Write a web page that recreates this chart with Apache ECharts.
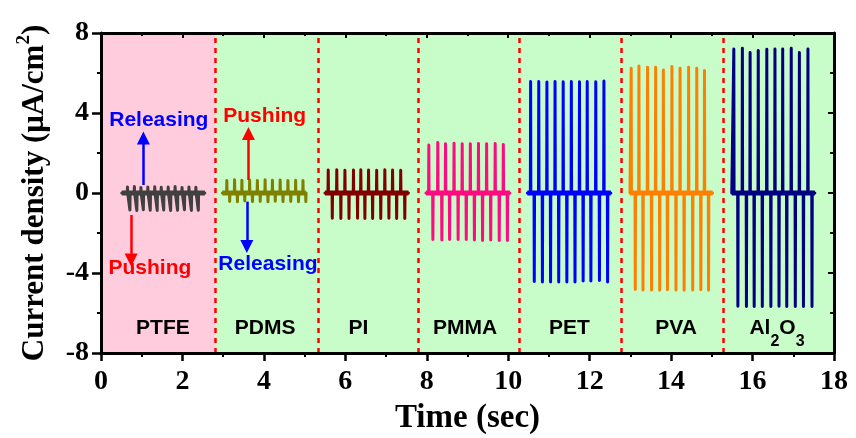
<!DOCTYPE html>
<html>
<head>
<meta charset="utf-8">
<title>Current density</title>
<script src="https://cdn.jsdelivr.net/npm/echarts@6/dist/echarts.min.js"></script>
<style>
html, body { margin: 0; padding: 0; background: #fff; }
#mychart { width: 856px; height: 438px; }
</style>
</head>
<body>
<div id="mychart"></div>
<script>
// 材料
var materials = ['PTFE', 'PDMS', 'PI', 'PMMA', 'PET', 'PVA', 'Al2O3'];
// 每段信号起止时间 (sec)
var segStart = [0.51, 2.98, 5.50, 7.98, 10.47, 12.99, 15.49];
var segEnd = [2.55, 5.03, 7.55, 10.04, 12.52, 15.02, 17.53];
// 红色虚线分隔
var boundaries = [2.8, 5.33, 7.8, 10.27, 12.77, 15.27];
// 正峰与负峰的时间差
var pulseLag = [0.06, 0.07, 0.1, 0.1, 0.09, 0.1, 0.1];

// 各材料每个周期的时间与峰值 (μA/cm2)
var ptfeT = [0.65, 0.82, 0.98, 1.15, 1.32, 1.48, 1.65, 1.82, 1.99, 2.16, 2.33];
var ptfeUp = [0.30, 0.32, 0.28, 0.30, 0.31, 0.29, 0.30, 0.32, 0.28, 0.30, 0.29];
var ptfeDown = [-0.85, -0.88, -0.84, -0.86, -0.87, -0.85, -0.88, -0.86, -0.84, -0.87, -0.86];

var pdmsT = [3.09, 3.28, 3.46, 3.65, 3.84, 4.03, 4.21, 4.40, 4.59, 4.78, 4.96];
var pdmsUp = [0.62, 0.66, 0.64, 0.65, 0.63, 0.66, 0.64, 0.65, 0.63, 0.64, 0.62];
var pdmsDown = [-0.42, -0.44, -0.40, -0.43, -0.42, -0.44, -0.41, -0.43, -0.42, -0.44, -0.43];

var piT = [5.58, 5.79, 5.99, 6.20, 6.38, 6.57, 6.77, 6.97, 7.16, 7.36];
var piUp = [1.15, 1.16, 1.14, 1.15, 1.16, 1.15, 1.14, 1.16, 1.15, 1.14];
var piDown = [-1.26, -1.27, -1.28, -1.26, -1.27, -1.28, -1.27, -1.26, -1.28, -1.27];

var pmmaT = [8.05, 8.27, 8.46, 8.67, 8.87, 9.07, 9.27, 9.47, 9.68, 9.88];
var pmmaUp = [2.40, 2.52, 2.46, 2.49, 2.46, 2.46, 2.47, 2.46, 2.47, 2.42];
var pmmaDown = [-2.33, -2.35, -2.33, -2.33, -2.33, -2.35, -2.38, -2.35, -2.38, -2.38];

var petT = [10.55, 10.75, 10.95, 11.15, 11.35, 11.55, 11.75, 11.94, 12.15, 12.35];
var petUp = [5.57, 5.58, 5.55, 5.57, 5.56, 5.57, 5.56, 5.57, 5.56, 5.60];
var petDown = [-4.43, -4.45, -4.45, -4.45, -4.45, -4.45, -4.40, -4.40, -4.38, -4.45];

var pvaT = [13.02, 13.21, 13.42, 13.62, 13.81, 14.02, 14.22, 14.43, 14.63, 14.82];
var pvaUp = [6.24, 6.35, 6.29, 6.29, 6.15, 6.32, 6.24, 6.29, 6.24, 6.12];
var pvaDown = [-4.83, -4.85, -4.85, -4.86, -4.84, -4.85, -4.86, -4.85, -4.84, -4.86];

var alT = [15.54, 15.75, 15.94, 16.14, 16.35, 16.55, 16.74, 16.95, 17.15, 17.36];
var alUp = [7.20, 7.24, 7.02, 7.12, 7.19, 7.20, 7.20, 7.24, 7.02, 7.20];
var alDown = [-5.66, -5.68, -5.68, -5.67, -5.68, -5.66, -5.68, -5.68, -5.67, -5.68];

// 材料名称标签位置
var labelX = [1.52, 4.03, 6.32, 8.94, 11.5, 14.12, 16.6];
var labelY = -6.75;

// Pushing / Releasing 注释与箭头
var noteText = ['Releasing', 'Pushing', 'Pushing', 'Releasing'];
var noteX = [1.42, 1.2, 4.02, 4.1];
var noteY = [3.65, -3.75, 3.85, -3.55];
var arrowX = [1.04, 0.74, 3.62, 3.58];
var arrowFrom = [0.4, -1.1, 0.65, -0.43];
var arrowTo = [2.75, -3.35, 2.98, -2.68];

var lineColors = ['#404040', '#808000', '#800000', '#ff0a80', '#0000ff', '#ff8000', '#000080'];
var noteColors = ['#0000ff', '#ff0000', '#ff0000', '#0000ff'];
var serif = 'Liberation Serif, Times New Roman, serif';
var sans = 'Liberation Sans, Arial, sans-serif';

var pulses = [
    [ptfeT, ptfeUp, ptfeDown],
    [pdmsT, pdmsUp, pdmsDown],
    [piT, piUp, piDown],
    [pmmaT, pmmaUp, pmmaDown],
    [petT, petUp, petDown],
    [pvaT, pvaUp, pvaDown],
    [alT, alUp, alDown]
];

//把每个周期的峰值连成折线
function buildPulse(k) {
    var times = pulses[k][0], ups = pulses[k][1], downs = pulses[k][2];
    var e = 0.006;
    var pts = [[segStart[k], 0]];
    for (var i = 0; i < times.length; i++) {
        var t = times[i];
        pts.push([t - e, 0], [t, ups[i]], [t + e, 0]);
        var tn = t + pulseLag[k];
        pts.push([tn - e, 0], [tn, downs[i]], [tn + e, 0]);
    }
    pts.push([segEnd[k], 0]);
    return pts;
}

var series = [];
for (var k = 0; k < materials.length; k++) {
    series.push({
        name: materials[k] + '_base',
        type: 'line',
        z: 3,
        symbol: 'none',
        silent: true,
        lineStyle: { color: lineColors[k], width: 5 },
        data: [[segStart[k], 0], [segEnd[k], 0]]
    });
    series.push({
        name: materials[k],
        type: 'line',
        z: 4,
        symbol: 'none',
        silent: true,
        lineStyle: { color: lineColors[k], width: 3, join: 'round', cap: 'round' },
        data: buildPulse(k)
    });
}

// 背景色块、分隔虚线、箭头
var arrowLines = [];
for (var a = 0; a < arrowX.length; a++) {
    arrowLines.push([
        { coord: [arrowX[a], arrowFrom[a]], lineStyle: { color: noteColors[a], width: 2.5, type: 'solid' }, itemStyle: { color: noteColors[a] } },
        { coord: [arrowX[a], arrowTo[a]] }
    ]);
}
var dashLines = boundaries.map(function (v) {
    return { xAxis: v };
});

var labelBase = {
    show: true,
    position: 'inside',
    fontFamily: sans,
    fontWeight: 'bold',
    fontSize: 21,
    opacity: 1,
    textBorderWidth: 0,
    textShadowBlur: 0
};

series.push({
    name: 'bg',
    type: 'scatter',
    z: 1,
    silent: true,
    symbolSize: 0,
    itemStyle: { opacity: 1 },
    data: labelX.map(function (x) { return [x, labelY]; }),
    label: echarts.util.merge({
        color: '#000',
        lineHeight: 44,
        formatter: function (p) {
            return materials[p.dataIndex] == 'Al2O3' ? 'Al{sub|2}O{sub|3}' : materials[p.dataIndex];
        },
        rich: {
            sub: { fontFamily: sans, fontWeight: 'bold', fontSize: 16, color: '#000', verticalAlign: 'bottom', lineHeight: 16 }
        }
    }, labelBase),
    markArea: {
        silent: true,
        data: [
            [{ xAxis: 0, itemStyle: { color: '#ffccdd' } }, { xAxis: boundaries[0] }],
            [{ xAxis: boundaries[0], itemStyle: { color: '#c8fcc8' } }, { xAxis: 18 }]
        ]
    },
    markLine: {
        silent: true,
        symbol: 'none',
        label: { show: false },
        lineStyle: { color: '#ff0000', type: [5, 5], width: 2.5 },
        data: dashLines
    }
});

series.push({
    name: 'notes',
    type: 'scatter',
    z: 5,
    silent: true,
    symbolSize: 0,
    itemStyle: { opacity: 1 },
    data: noteText.map(function (s, i) {
        return { value: [noteX[i], noteY[i]], label: { color: noteColors[i] } };
    }),
    label: echarts.util.merge({
        formatter: function (p) {
            return noteText[p.dataIndex];
        }
    }, labelBase),
    markLine: {
        silent: true,
        symbol: ['none', 'triangle'],
        symbolSize: 13,
        label: { show: false },
        data: arrowLines
    }
});

var axisBase = {
    type: 'value',
    z: 10,
    axisLine: { onZero: false, lineStyle: { color: '#000', width: 3 } },
    splitLine: { show: false }
};

var myChart = echarts.init(document.getElementById('mychart'));
myChart.setOption({
    animation: false,
    backgroundColor: '#fff',
    grid: { left: 101, right: 22, top: 33, bottom: 85, containLabel: false, outerBoundsMode: 'none' },
    xAxis: [
        echarts.util.merge({
            position: 'bottom', min: 0, max: 18, interval: 2,
            name: 'Time (sec)', nameLocation: 'middle', nameGap: 37,
            nameTextStyle: { fontFamily: serif, fontWeight: 'bold', fontSize: 33, color: '#000', lineHeight: 36 },
            axisTick: { inside: false, length: 8, lineStyle: { color: '#000', width: 2.5 } },
            minorTick: { show: true, splitNumber: 2, length: 4, lineStyle: { color: '#000', width: 2 } },
            axisLabel: { margin: 15, fontFamily: serif, fontWeight: 'bold', fontSize: 28, color: '#000', lineHeight: 28 }
        }, axisBase),
        echarts.util.merge({
            position: 'top', min: 0, max: 18, interval: 2,
            axisTick: { inside: true, length: 5, lineStyle: { color: '#000', width: 2 } },
            minorTick: { show: true, splitNumber: 2, length: 3, lineStyle: { color: '#000', width: 2 } },
            axisLabel: { show: false }
        }, axisBase)
    ],
    yAxis: [
        echarts.util.merge({
            position: 'left', min: -8, max: 8, interval: 4,
            name: 'Current density (μA/cm{sup|2})', nameLocation: 'middle', nameGap: 46,
            nameTextStyle: {
                fontFamily: serif, fontWeight: 'bold', fontSize: 31, color: '#000', lineHeight: 40,
                rich: {
                    sup: { fontFamily: serif, fontWeight: 'bold', fontSize: 19, color: '#000', verticalAlign: 'top', lineHeight: 19 }
                }
            },
            axisTick: { inside: false, length: 9, lineStyle: { color: '#000', width: 2.5 } },
            minorTick: { show: true, splitNumber: 2, length: 4, lineStyle: { color: '#000', width: 2 } },
            axisLabel: { margin: 12, fontFamily: serif, fontWeight: 'bold', fontSize: 28, color: '#000' }
        }, axisBase),
        echarts.util.merge({
            position: 'right', min: -8, max: 8, interval: 4,
            axisTick: { inside: true, length: 6, lineStyle: { color: '#000', width: 2 } },
            minorTick: { show: true, splitNumber: 2, length: 4, lineStyle: { color: '#000', width: 2 } },
            axisLabel: { show: false }
        }, axisBase)
    ],
    series: series
});
</script>
</body>
</html>
